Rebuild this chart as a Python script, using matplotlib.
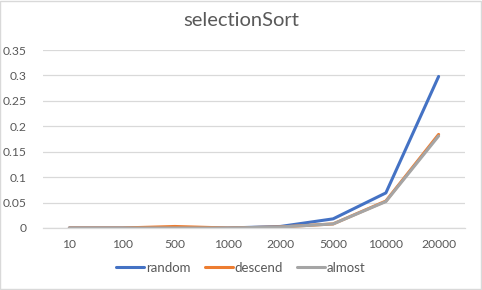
import matplotlib
matplotlib.use('Agg')
import matplotlib.pyplot as plt
from matplotlib.patches import Rectangle

plt.rcParams['font.family'] = ['Lato', 'DejaVu Sans']

sizes = ['10', '100', '500', '1000', '2000', '5000', '10000', '20000']
random_t = [0.0, 0.0, 0.001, 0.0, 0.003, 0.018, 0.069, 0.298]
descend_t = [0.0, 0.0, 0.003, 0.0, 0.002, 0.008, 0.053, 0.184]
almost_t = [0.0, 0.0, 0.0, 0.0, 0.002, 0.008, 0.052, 0.181]

fig = plt.figure(figsize=(4.82, 2.90), dpi=100)
ax = fig.add_axes([43 / 482, 1 - 228 / 290, 422 / 482, 178 / 290])

x = range(len(sizes))
ax.plot(x, random_t, color='#4472C4', lw=2.2, label='random', solid_capstyle='round')
ax.plot(x, descend_t, color='#ED7D31', lw=2.2, label='descend', solid_capstyle='round')
ax.plot(x, almost_t, color='#A5A5A5', lw=2.2, label='almost', solid_capstyle='round')

ax.set_xlim(-0.5, len(sizes) - 0.5)
ax.set_ylim(0, 0.35)
ax.set_yticks([0, 0.05, 0.1, 0.15, 0.2, 0.25, 0.3, 0.35])
ax.set_yticklabels(['0', '0.05', '0.1', '0.15', '0.2', '0.25', '0.3', '0.35'])
ax.set_xticks(list(x))
ax.set_xticklabels(sizes)
ax.tick_params(length=0, labelsize=8.7, colors='#595959', pad=8)
ax.tick_params(axis='y', pad=12)
ax.grid(axis='y', color='#D9D9D9', lw=0.9)
ax.set_axisbelow(True)
for s in ['top', 'right', 'left']:
    ax.spines[s].set_visible(False)
ax.spines['bottom'].set_color('#D9D9D9')
ax.spines['bottom'].set_linewidth(0.9)

fig.text(0.5, 1 - 20 / 290, 'selectionSort', ha='center', va='center',
         fontsize=14.5, color='#595959')

fig.legend(loc='center', bbox_to_anchor=(0.5, 1 - 268 / 290), ncol=3, frameon=False,
           fontsize=9.5, labelcolor='#595959', handlelength=2.1, handletextpad=0.15,
           columnspacing=1.1)

fig.patches.append(Rectangle((0.001, 0.002), 0.997, 0.995, transform=fig.transFigure,
                             fill=False, edgecolor='#D9D9D9', lw=1.0))

plt.savefig('out.png', dpi=100)
plt.close()
